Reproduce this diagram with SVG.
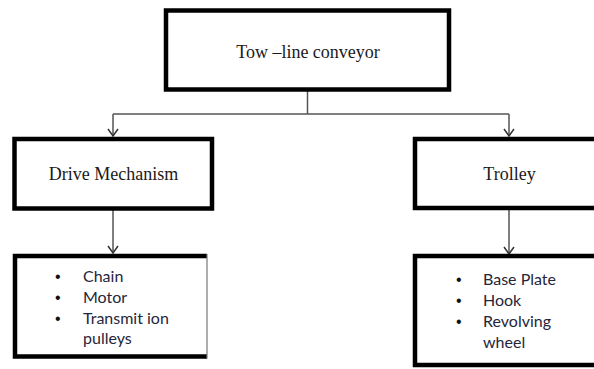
<svg xmlns="http://www.w3.org/2000/svg" width="594" height="369" viewBox="0 0 594 369">
<defs>
<style>
.box{fill:#fff;stroke:#000;stroke-width:4.5}
.serif{font-family:"Liberation Serif","Times New Roman",serif;font-size:18px;fill:#1a1a1a;text-anchor:middle}
.list{font-family:Lato,"Liberation Sans",sans-serif;font-size:16px;fill:#26263a}
.bul{font-family:"Liberation Sans",sans-serif;font-size:16px;fill:#111}
.conn{fill:none;stroke:#555;stroke-width:1.5}
</style>
<marker id="arr" markerWidth="12" markerHeight="12" refX="10" refY="6" orient="auto" markerUnits="userSpaceOnUse" viewBox="0 0 12 12">
<path d="M3,1 L10,6 L3,11" fill="none" stroke="#333" stroke-width="1.5"/>
</marker>
</defs>
<rect width="594" height="369" fill="#fff"/>
<g id="connectors">
<path class="conn" d="M307.5,90 V114"/>
<path class="conn" d="M113,114 H509"/>
<path class="conn" d="M113,114 V136" marker-end="url(#arr)"/>
<path class="conn" d="M509,114 V136" marker-end="url(#arr)"/>
<path class="conn" d="M113,209 V253" marker-end="url(#arr)"/>
<path class="conn" d="M509,209 V254" marker-end="url(#arr)"/>
</g>
<g id="tow-line-conveyor">
<rect class="box" x="166" y="10.5" width="283" height="79"/>
<text class="serif" x="308" y="58">Tow –line conveyor</text>
</g>
<g id="drive-mechanism">
<rect class="box" x="14.5" y="139" width="197.5" height="69.5"/>
<text class="serif" x="113.5" y="180">Drive Mechanism</text>
</g>
<g id="trolley">
<rect class="box" x="415" y="139" width="190" height="69"/>
<text class="serif" x="509.5" y="180">Trolley</text>
</g>
<g id="drive-parts">
<path d="M207,256 H15 V356.5 H207" fill="#fff" stroke="#000" stroke-width="4.5"/>
<path d="M207,254 V358.5" stroke="#777" stroke-width="1.2"/>
<g class="bul">
<text x="55" y="282">•</text><text x="55" y="303">•</text><text x="55" y="324">•</text>
</g>
<g class="list">
<text x="83" y="282">Chain</text>
<text x="83" y="303">Motor</text>
<text x="83" y="324">Transmit ion</text>
<text x="83" y="344">pulleys</text>
</g>
</g>
<g id="trolley-parts">
<rect class="box" x="415" y="256" width="190" height="109"/>
<g class="bul">
<text x="456" y="285">•</text><text x="456" y="306">•</text><text x="456" y="327">•</text>
</g>
<g class="list">
<text x="483" y="285">Base Plate</text>
<text x="483" y="306">Hook</text>
<text x="483" y="327">Revolving</text>
<text x="483" y="348">wheel</text>
</g>
</g>
</svg>
